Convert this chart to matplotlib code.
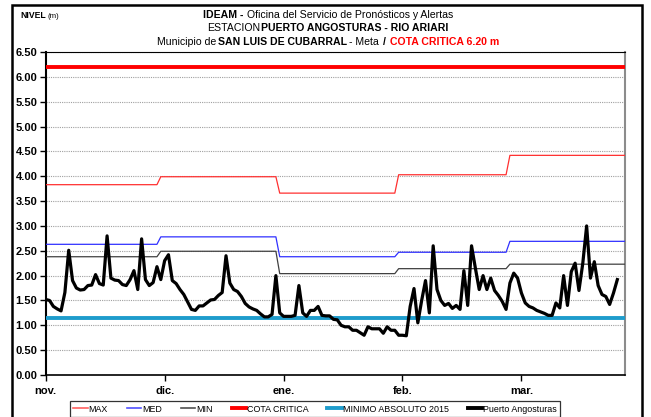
import matplotlib
matplotlib.use("Agg")
import matplotlib.pyplot as plt
import numpy as np
from matplotlib.lines import Line2D
from matplotlib.patches import Rectangle

plt.rcParams["font.family"] = ["Liberation Sans Narrow", "Liberation Sans", "DejaVu Sans"]

# niveles de referencia por mes (nov - mar)
meses = ["nov.", "dic.", "ene.", "feb.", "mar."]
dias_mes = [30, 31, 31, 29, 31]
nivel_max = [3.83, 3.99, 3.66, 4.03, 4.42]
nivel_med = [2.63, 2.78, 2.38, 2.47, 2.69]
nivel_min = [2.38, 2.49, 2.04, 2.14, 2.23]
cota_critica = 6.20
minimo_absoluto = 1.15

# lecturas diarias de la estacion, desde el 1 de noviembre
puerto_angosturas = [
    # nov
    1.52, 1.50, 1.38, 1.33, 1.29, 1.66, 2.51, 1.90, 1.75, 1.71,
    1.72, 1.80, 1.81, 2.02, 1.84, 1.81, 2.80, 1.95, 1.91, 1.90,
    1.82, 1.80, 1.92, 2.10, 1.72, 2.74, 1.92, 1.80, 1.86, 2.18,
    # dic
    1.92, 2.30, 2.42, 1.90, 1.84, 1.72, 1.62, 1.47, 1.32, 1.30,
    1.39, 1.39, 1.45, 1.51, 1.52, 1.60, 1.66, 2.40, 1.85, 1.72,
    1.68, 1.58, 1.44, 1.37, 1.33, 1.30, 1.23, 1.17, 1.17, 1.22,
    2.00,
    # ene
    1.25, 1.18, 1.18, 1.18, 1.20, 1.80, 1.25, 1.18, 1.30, 1.30,
    1.38, 1.20, 1.19, 1.19, 1.12, 1.11, 1.00, 0.97, 0.97, 0.90,
    0.90, 0.85, 0.80, 0.97, 0.93, 0.93, 0.93, 0.84, 0.97, 0.90,
    0.90,
    # feb
    0.80, 0.80, 0.79, 1.38, 1.74, 1.05, 1.50, 1.90, 1.25, 2.60,
    1.72, 1.50, 1.40, 1.44, 1.34, 1.40, 1.32, 2.10, 1.40, 2.60,
    2.15, 1.72, 2.00, 1.72, 1.95, 1.70, 1.60, 1.48, 1.32,
    # mar
    1.85, 2.05, 1.95, 1.65, 1.45, 1.38, 1.35, 1.30, 1.27, 1.24,
    1.20, 1.20, 1.45, 1.35, 2.00, 1.40, 2.08, 2.25, 1.70, 2.25,
    3.00, 1.95, 2.28, 1.80, 1.62, 1.58, 1.42, 1.65, 1.92,
]

W, H = 651, 417
fig = plt.figure(figsize=(W / 100, H / 100), dpi=100)
ax = fig.add_axes([45.7 / W, 1 - 375 / H, (625 - 45.7) / W, (375 - 52) / H])

total_dias = sum(dias_mes)
x_mes = np.arange(total_dias)
x_dia = np.arange(len(puerto_angosturas))

ax.plot(x_mes, np.repeat(nivel_max, dias_mes), color="#ff3030", lw=0.9, zorder=3)
ax.plot(x_mes, np.repeat(nivel_med, dias_mes), color="#3030ff", lw=0.9, zorder=3)
ax.plot(x_mes, np.repeat(nivel_min, dias_mes), color="#404040", lw=0.9, zorder=3)
ax.axhline(cota_critica, color="#ff0000", lw=2.8, zorder=3)
ax.axhline(minimo_absoluto, color="#1e9ccc", lw=2.8, zorder=3)
ax.plot(x_dia, puerto_angosturas, color="black", lw=2.3, zorder=4)

ax.set_xlim(0, total_dias - 1)
ax.set_ylim(0, 6.5)
ax.set_yticks(np.arange(0, 6.51, 0.5))
ax.set_yticklabels([f"{v:.2f}" for v in np.arange(0, 6.51, 0.5)],
                   fontsize=8, fontweight="bold")
ax.set_xticks(np.arange(len(meses)) * 31)
ax.set_xticklabels(meses, fontsize=8, fontweight="bold")
ax.tick_params(axis="both", direction="out", length=4, width=1, pad=2)
ax.tick_params(axis="x", pad=4)
ax.grid(axis="y", color="#a0a0a0", ls=(0, (1, 1)), lw=0.8)

ax.spines["left"].set_linewidth(1.5)
ax.spines["bottom"].set_linewidth(1.2)
ax.spines["top"].set_linewidth(0.8)
ax.spines["right"].set_color("#8c8c8c")
ax.spines["right"].set_linewidth(1.5)

# marco exterior
fig.add_artist(Rectangle((12 / W, -0.05), (642 - 12) / W, 1.05 - 4.5 / H,
                         transform=fig.transFigure, fill=False,
                         ec="black", lw=1.8))


def linea_texto(y, partes, size, x0=None, cx=None):
    renderer = fig.canvas.get_renderer()
    textos = []
    for texto, peso, color, hueco, tam in partes:
        t = fig.text(0, 1 - y / H, texto, fontsize=tam or size, fontweight=peso,
                     color=color, va="center", ha="left")
        textos.append((t, hueco))
    anchos = [t.get_window_extent(renderer).width + h for t, h in textos]
    x = x0 if x0 is not None else cx - sum(anchos) / 2
    for (t, h), a in zip(textos, anchos):
        t.set_x(x / W)
        x += a


linea_texto(15, [("IDEAM -", "bold", "black", 3, None),
                 ("Oficina del Servicio de Pronósticos y Alertas", "normal", "black", 0, None)],
            size=7.6, cx=328)
linea_texto(28, [("ESTACION", "normal", "black", 1, None),
                 ("PUERTO ANGOSTURAS - RIO ARIARI", "bold", "black", 0, None)],
            size=7.6, cx=328)
linea_texto(42, [("Municipio de", "normal", "black", 2, None),
                 ("SAN LUIS DE CUBARRAL", "bold", "black", 2, None),
                 ("- Meta", "normal", "black", 4, None),
                 ("/", "bold", "black", 4, None),
                 ("COTA CRITICA 6.20 m", "bold", "#ff0000", 0, None)],
            size=7.6, cx=328)

linea_texto(16, [("NIVEL", "bold", "black", 2, 6.2),
                 ("(m)", "normal", "black", 0, 5.6)], size=6, x0=20)

handles = [
    Line2D([], [], color="#ff6060", lw=1.2),
    Line2D([], [], color="#5050ff", lw=1.2),
    Line2D([], [], color="#505050", lw=1.2),
    Line2D([], [], color="#ff0000", lw=2.8),
    Line2D([], [], color="#1e9ccc", lw=2.8),
    Line2D([], [], color="black", lw=2.8),
]
etiquetas = ["MAX", "MED", "MIN", "COTA CRITICA", "MINIMO ABSOLUTO 2015", "Puerto Angosturas"]
leg = fig.legend(handles, etiquetas, loc="center", bbox_to_anchor=(315 / W, 1 - 409 / H),
                 ncol=6, fontsize=6.4, frameon=True, fancybox=False, edgecolor="black",
                 handlelength=1.6, handletextpad=0.1, columnspacing=2.15, borderpad=0.4)
leg.get_frame().set_linewidth(0.9)

fig.savefig("out.png", dpi=100)
